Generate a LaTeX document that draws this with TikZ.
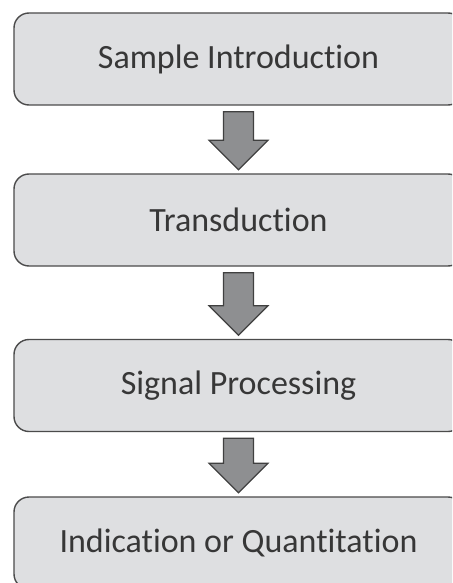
\documentclass[tikz,border=0pt]{standalone}
\usepackage{fontspec}
\setmainfont{Carlito}[Ligatures={NoCommon}]
\usetikzlibrary{calc}
\definecolor{boxfill}{RGB}{222,223,225}
\definecolor{boxline}{RGB}{75,75,75}
\definecolor{txt}{RGB}{55,55,55}
\definecolor{arrfill}{RGB}{142,143,145}
\definecolor{arrline}{RGB}{64,64,64}
\tikzset{
  stagebox/.style={draw=boxline, line width=1.4pt, fill=boxfill, rounded corners=15pt,
    minimum width=449pt, minimum height=92pt, inner sep=0pt, text=txt,
    font=\fontsize{34}{40}\selectfont},
  blockarrow/.style={draw=arrline, line width=1.2pt, fill=arrfill, line join=miter}
}
\newcommand{\blockarr}[2]{%
  \path[blockarrow]
    ($(#1.south)+(-15pt,-6pt)$) -- ($(#1.south)+(15pt,-6pt)$)
    -- ($(#2.north)+(15pt,33pt)$) -- ($(#2.north)+(29.5pt,33pt)$)
    -- ($(#2.north)+(0pt,3.5pt)$) -- ($(#2.north)+(-29.5pt,33pt)$)
    -- ($(#2.north)+(-15pt,33pt)$) -- cycle;}
\begin{document}
\begin{tikzpicture}[x=1pt,y=1pt]
\useasboundingbox (0,0) rectangle (452,-583);
\clip (0,0) rectangle (452,-583);
\fill[white] (0,0) rectangle (452,-583);
\node[stagebox] (b1) at (238.5,-59) {Sample Introduction};
\node[stagebox] (b2) at (238.5,-220) {Transduction};
\node[stagebox] (b3) at (238.5,-385.5) {Signal Processing};
\node[stagebox] (b4) at (238.5,-543) {Indication or Quantitation};
\blockarr{b1}{b2}
\blockarr{b2}{b3}
\blockarr{b3}{b4}
\end{tikzpicture}
\end{document}
